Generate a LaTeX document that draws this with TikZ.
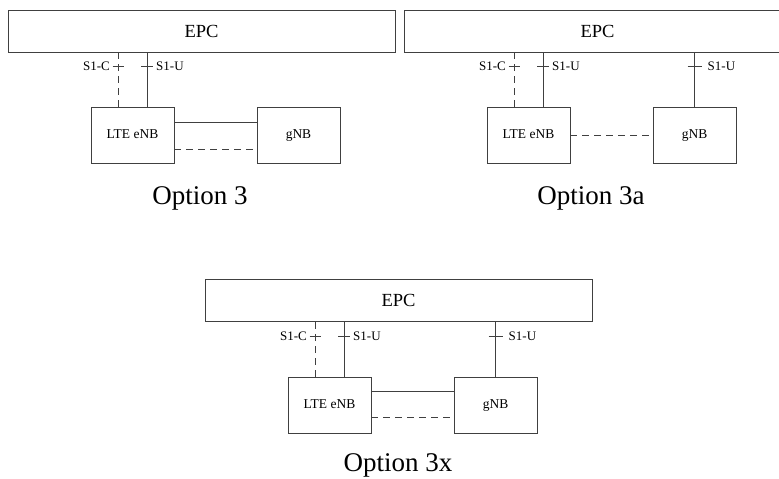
\documentclass[tikz,border=0pt]{standalone}
\usepackage{fontspec}
\setmainfont{Liberation Serif}
\begin{document}
\begin{tikzpicture}[x=1pt,y=-1pt,
  ln/.style={draw=black!75, line width=0.9pt},
  box/.style={ln, rectangle, inner sep=0pt, minimum height=56pt, minimum width=83pt, text height=9pt, text depth=2pt, font=\fontsize{13.5}{15}\selectfont},
  epcbox/.style={ln, rectangle, inner sep=0pt, minimum height=42pt, minimum width=387pt, font=\fontsize{18.5}{20}\selectfont},
  dsh/.style={ln, dash pattern=on 7pt off 5pt},
  lbl/.style={inner sep=0pt, font=\fontsize{13}{14}\selectfont},
  capt/.style={inner sep=0pt, font=\fontsize{27}{30}\selectfont}]
\useasboundingbox (0,0) rectangle (779,479);

% ---------- Option 3 ----------
\begin{scope}[shift={(8,10)}]
\node[epcbox] (epcA) at (193.5,21) {EPC};
\node[box] (lteA) at (124.5,125) {LTE eNB};
\node[box] (gnbA) at (290.5,125) {gNB};
\draw[dsh] ([xshift=-14.5pt]lteA.north) -- ([xshift=-14.5pt]lteA.north |- epcA.south);
\draw[ln] ([xshift=14.5pt]lteA.north) -- ([xshift=14.5pt]lteA.north |- epcA.south);
\coordinate (tcA) at (110,56);
\coordinate (tuA) at (139,56);
\draw[ln] ([xshift=-5.5pt]tcA) -- ([xshift=5.5pt]tcA);
\draw[ln] ([xshift=-6pt]tuA) -- ([xshift=6pt]tuA);
\node[lbl,anchor=east] (lcA) at ([xshift=-8pt]tcA) {S1-C};
\node[lbl,anchor=west] (luA) at ([xshift=9pt]tuA) {S1-U};
\draw[ln] ([yshift=13pt]lteA.east) -- ([yshift=13pt]gnbA.west);
\draw[dsh] ([yshift=-14pt]lteA.east) -- ([yshift=-14pt]gnbA.west);
\node[capt] (capA) at (192,188) {Option 3};
\end{scope}

% ---------- Option 3a ----------
\begin{scope}[shift={(404,10)}]
\node[epcbox] (epcB) at (193.5,21) {EPC};
\node[box] (lteB) at (124.5,125) {LTE eNB};
\node[box] (gnbB) at (290.5,125) {gNB};
\draw[dsh] ([xshift=-14.5pt]lteB.north) -- ([xshift=-14.5pt]lteB.north |- epcB.south);
\draw[ln] ([xshift=14.5pt]lteB.north) -- ([xshift=14.5pt]lteB.north |- epcB.south);
\draw[ln] (gnbB.north) -- (gnbB.north |- epcB.south);
\coordinate (tcB) at (110,56);
\coordinate (tuB) at (139,56);
\coordinate (tgB) at (290.5,56);
\draw[ln] ([xshift=-5.5pt]tcB) -- ([xshift=5.5pt]tcB);
\draw[ln] ([xshift=-6pt]tuB) -- ([xshift=6pt]tuB);
\draw[ln] ([xshift=-7pt]tgB) -- ([xshift=7pt]tgB);
\node[lbl,anchor=east] (lcB) at ([xshift=-8pt]tcB) {S1-C};
\node[lbl,anchor=west] (luB) at ([xshift=9pt]tuB) {S1-U};
\node[lbl,anchor=west] (lgB) at ([xshift=13pt]tgB) {S1-U};
\draw[dsh] (lteB.east) -- (gnbB.west);
\node[capt] (capB) at (187,188) {Option 3a};
\end{scope}

% ---------- Option 3x ----------
\begin{scope}[shift={(205,279)}]
\node[epcbox] (epcC) at (193.5,21) {EPC};
\node[box] (lteC) at (124.5,126) {LTE eNB};
\node[box] (gnbC) at (290.5,126) {gNB};
\draw[dsh] ([xshift=-14.5pt]lteC.north) -- ([xshift=-14.5pt]lteC.north |- epcC.south);
\draw[ln] ([xshift=14.5pt]lteC.north) -- ([xshift=14.5pt]lteC.north |- epcC.south);
\draw[ln] (gnbC.north) -- (gnbC.north |- epcC.south);
\coordinate (tcC) at (110,57);
\coordinate (tuC) at (139,57);
\coordinate (tgC) at (290.5,57);
\draw[ln] ([xshift=-5.5pt]tcC) -- ([xshift=5.5pt]tcC);
\draw[ln] ([xshift=-6pt]tuC) -- ([xshift=6pt]tuC);
\draw[ln] ([xshift=-7pt]tgC) -- ([xshift=7pt]tgC);
\node[lbl,anchor=east] (lcC) at ([xshift=-8pt]tcC) {S1-C};
\node[lbl,anchor=west] (luC) at ([xshift=9pt]tuC) {S1-U};
\node[lbl,anchor=west] (lgC) at ([xshift=13pt]tgC) {S1-U};
\draw[ln] ([yshift=14pt]lteC.east) -- ([yshift=14pt]gnbC.west);
\draw[dsh] ([yshift=-12pt]lteC.east) -- ([yshift=-12pt]gnbC.west);
\node[capt] (capC) at (193,186) {Option 3x};
\end{scope}
\end{tikzpicture}
\end{document}
